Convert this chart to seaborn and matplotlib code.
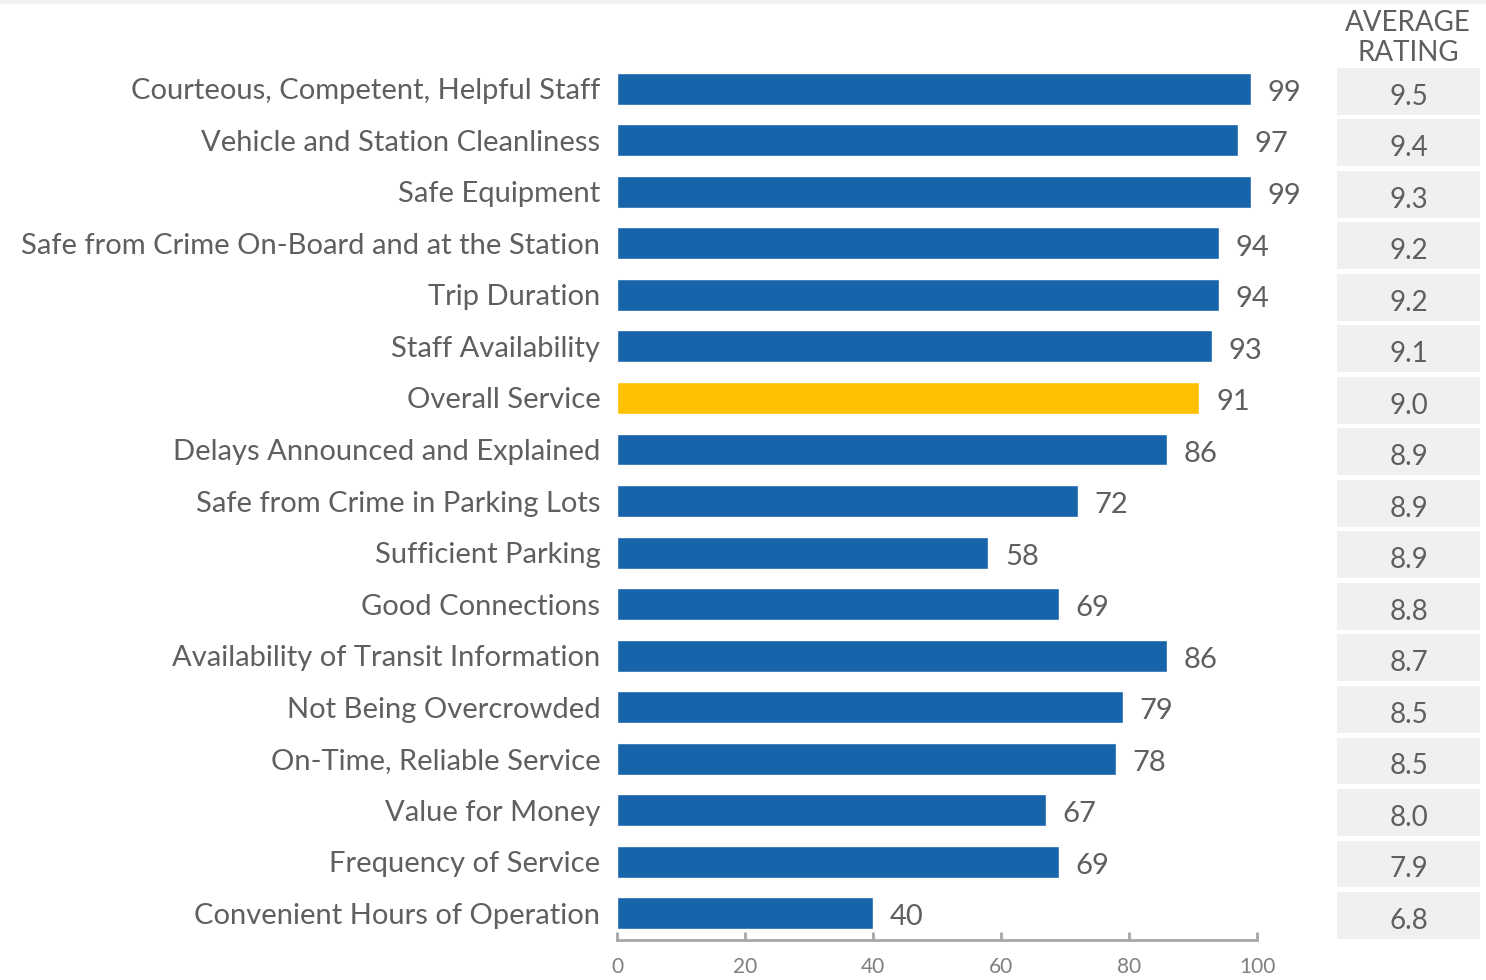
import matplotlib
matplotlib.use("Agg")
import matplotlib.pyplot as plt
import seaborn as sns
import pandas as pd
from matplotlib.patches import Rectangle

categories = [
    "Courteous, Competent, Helpful Staff",
    "Vehicle and Station Cleanliness",
    "Safe Equipment",
    "Safe from Crime On-Board and at the Station",
    "Trip Duration",
    "Staff Availability",
    "Overall Service",
    "Delays Announced and Explained",
    "Safe from Crime in Parking Lots",
    "Sufficient Parking",
    "Good Connections",
    "Availability of Transit Information",
    "Not Being Overcrowded",
    "On-Time, Reliable Service",
    "Value for Money",
    "Frequency of Service",
    "Convenient Hours of Operation",
]
values = [99, 97, 99, 94, 94, 93, 91, 86, 72, 58, 69, 86, 79, 78, 67, 69, 40]
ratings = ["9.5", "9.4", "9.3", "9.2", "9.2", "9.1", "9.0", "8.9", "8.9", "8.9",
           "8.8", "8.7", "8.5", "8.5", "8.0", "7.9", "6.8"]
highlight = "Overall Service"
xticks = [0, 20, 40, 60, 80, 100]

sns.set_style("white")
plt.rcParams['font.family'] = ['Lato', 'DejaVu Sans']

BLUE = "#1764AB"
YELLOW = "#FFC000"
TXT = "#5F5F5F"

df = pd.DataFrame({"cat": categories, "val": values})
palette = {c: (YELLOW if c == highlight else BLUE) for c in categories}

fig = plt.figure(figsize=(14.86, 9.8), dpi=100)
ax = fig.add_axes([617/1486, 40/980, 640/1486, 880/980])
sns.barplot(data=df, y="cat", x="val", hue="cat", palette=palette, order=categories,
            hue_order=categories, legend=False, width=0.62, ax=ax, saturation=1)

ax.set_xlim(0, 100)
ax.set_ylim(16.52, -0.56)
ax.set_xlabel("")
ax.set_ylabel("")
ax.set_xticks(xticks)
ax.set_xticklabels([str(t) for t in xticks], color="#7F7F7F", fontsize=15)
ax.tick_params(axis="x", bottom=True, direction="in", length=6, width=2,
               color="#A6A6A6", pad=12)
ax.tick_params(axis="y", left=False, length=0, pad=12)
for lab in ax.get_yticklabels():
    lab.set_fontsize(21)
    lab.set_color(TXT)
for s in ["top", "right", "left"]:
    ax.spines[s].set_visible(False)
ax.spines["bottom"].set_color("#A6A6A6")
ax.spines["bottom"].set_linewidth(2)

for i, v in enumerate(values):
    ax.text(v + 2.6, i + 0.08, str(v), va="center", ha="left", fontsize=21,
            color=TXT)

# rating boxes
for i, r in enumerate(ratings):
    ax.add_patch(Rectangle((112.5, i - 0.41), 22.4, 0.91, facecolor="#F0F0F0",
                           edgecolor="none", clip_on=False, transform=ax.transData))
    ax.text(123.7, i + 0.15, r, ha="center", va="center", fontsize=20, color=TXT,
            clip_on=False)

fig.text(1408/1486, 1 - 38/980, "AVERAGE\nRATING", ha="center", va="center",
         fontsize=20, color=TXT, linespacing=1.2)

fig.patches.append(Rectangle((0, 1 - 4/980), 1, 4/980, transform=fig.transFigure,
                             facecolor="#F2F2F2", edgecolor="none"))

fig.savefig("out.png", dpi=100)
